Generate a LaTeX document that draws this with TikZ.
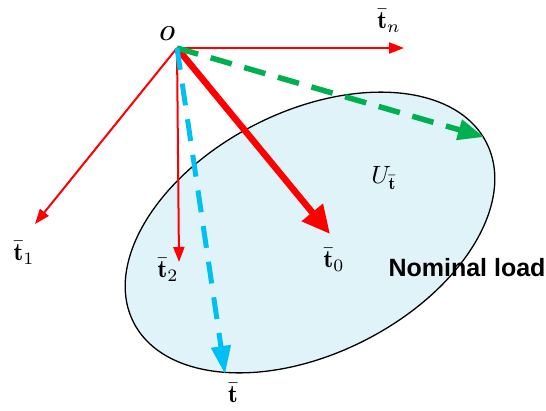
\documentclass[tikz,border=0pt]{standalone}
\usepackage{amsmath}
\usepackage{graphicx}
\usepackage{fontspec}
\newfontfamily\labelsans{Liberation Sans}
\usetikzlibrary{arrows.meta,shapes.geometric}
\definecolor{vred}{RGB}{255,0,0}
\definecolor{vgreen}{RGB}{0,176,80}
\definecolor{vcyan}{RGB}{0,191,243}
\definecolor{vfill}{RGB}{223,243,248}
\newcommand{\vecmlabel}[1]{\scalebox{2.5}{$#1$}}
\tikzset{
  thinvec/.style={draw=vred, line width=2pt, -{Triangle[length=15pt,width=11pt]}},
  thickvec/.style={draw=vred, line width=6.5pt, -{Triangle[length=28pt,width=26pt]}},
  greenvec/.style={draw=vgreen, line width=5.5pt, dash pattern=on 22pt off 13pt, -{Triangle[length=26pt,width=20pt]}},
  cyanvec/.style={draw=vcyan, line width=5pt, dash pattern=on 22pt off 14pt, -{Triangle[length=28pt,width=19pt]}},
  mlabel/.style={inner sep=0pt},
}
\begin{document}
\begin{tikzpicture}[x=1pt,y=-1pt]
\useasboundingbox (0,0) rectangle (546,410);
\node[draw=black, line width=1.3pt, fill=vfill, ellipse, inner sep=0pt,
      minimum width=396pt, minimum height=242pt, rotate=27] (U) at (310,232.5) {};
\coordinate (o) at (177,48);
\coordinate (tn) at (404,48);
\coordinate (t1) at (35,224);
\coordinate (t2) at (179,262);
\coordinate (t0) at (330,234);
\coordinate (tg) at (484,137);
\coordinate (tc) at (225,374);
\draw[thinvec] (o) -- (tn);
\draw[thinvec] (o) -- (t1);
\draw[thinvec] (o) -- (t2);
\draw[thickvec] (o) -- (t0);
\draw[greenvec] (o) -- (tg);
\draw[cyanvec] (o) -- (tc);
\node[inner sep=0pt, font=\fontsize{20}{24}\selectfont\bfseries\itshape] (lo) at (166,34) {O};
\node[mlabel] (ln) at (389,21) {\vecmlabel{\bar{\mathbf{t}}_n}};
\node[mlabel] (l1) at (24,253) {\vecmlabel{\bar{\mathbf{t}}_1}};
\node[mlabel] (l2) at (168,270) {\vecmlabel{\bar{\mathbf{t}}_2}};
\node[mlabel] (l0) at (334,260) {\vecmlabel{\bar{\mathbf{t}}_0}};
\node[mlabel] (lt) at (233,393) {\vecmlabel{\bar{\mathbf{t}}}};
\node[mlabel] (lu) at (384,178) {\vecmlabel{U_{\bar{\mathbf{t}}}}};
\node[inner sep=0pt, font=\labelsans\fontsize{25}{28}\selectfont\bfseries] (nl) at (467,268) {Nominal load};
\end{tikzpicture}
\end{document}
